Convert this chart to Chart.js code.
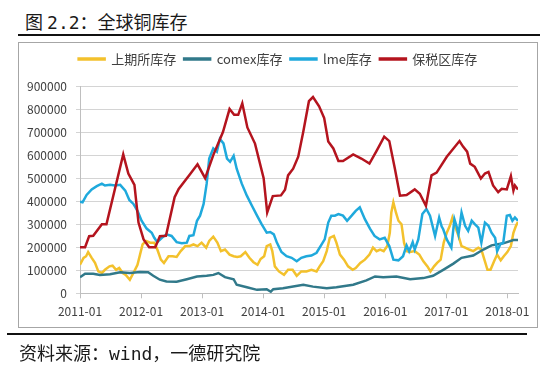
<!DOCTYPE html>
<html lang="zh-CN">
<head>
    <meta charset="UTF-8">
    <title>全球铜库存</title>
    <script src="https://cdn.jsdelivr.net/npm/chart.js"></script>
    <style>
        body { margin: 0; background: #fff; }
        #page { position: relative; width: 550px; height: 367px; overflow: hidden; font-family: "Noto Sans CJK SC", sans-serif; color: #1a1a1a; }
        .mono { font-family: "DejaVu Sans Mono", monospace; }
        .rule { position: absolute; height: 2px; background: #111; }
        #title { position: absolute; left: 25px; top: 11px; font-size: 18px; line-height: 20px; white-space: nowrap; }
        #source { position: absolute; left: 19px; top: 342px; font-size: 18px; line-height: 20px; white-space: nowrap; }
        #frame { position: absolute; left: 18px; top: 42px; width: 518px; height: 284px; border: 1px solid #a6a6a6; }
        #chart { position: absolute; left: 0; top: 0; }
    </style>
</head>
<body>
<div id="page">
    <div id="title">图 <span class="mono">2.2</span>：全球铜库存</div>
    <div class="rule" style="left:18px; top:34px; width:522px;"></div>
    <div id="frame"></div>
    <canvas id="chart" width="550" height="367"></canvas>
    <div class="rule" style="left:7px; top:333px; width:520px;"></div>
    <div id="source">资料来源：<span class="mono">wind</span>，一德研究院</div>
</div>
<script>
    // x values are months counted from 2011-01
    const yearLabels = ['2011-01', '2012-01', '2013-01', '2014-01', '2015-01', '2016-01', '2017-01', '2018-01'];
    const seriesNames = ['上期所库存', 'comex库存', 'lme库存', '保税区库存'];

    // 上期所库存
    const shfeMonths = [0, 0.7, 1.2, 1.6, 2.3, 2.95, 3.6, 4.3, 4.9, 5.8, 6.4, 7.1, 7.7, 8.4, 9, 9.8, 10.5, 11.3, 11.8, 12.3,
        13, 13.8, 14.6, 15.2, 15.9, 16.5, 17.4, 18.2, 19, 19.8, 20.7, 21.5, 22.3, 23.1, 23.9, 24.8, 25.4, 26.2, 27, 27.7,
        28.5, 29.4, 30.2, 30.9, 31.6, 32.5, 33.3, 34.1, 34.9, 35.5, 36.2, 36.7, 37.4, 37.8, 38.3, 39.1, 40.1, 40.9, 41.8, 42.6,
        43.5, 44.5, 45.5, 46.5, 47.1, 47.8, 48.5, 49.1, 49.9, 50.4, 51.1, 51.9, 52.7, 53.6, 54.2, 55.1, 56, 56.9, 57.6, 58.3,
        59, 59.7, 60.4, 60.9, 61.2, 61.6, 62.1, 62.6, 63.2, 63.7, 64.2, 64.9, 65.8, 66.7, 67.5, 68.3, 68.9, 69.6, 70.2, 70.9,
        71.5, 72.1, 72.7, 73.2, 73.7, 74.4, 75, 75.7, 76.5, 77.3, 78.3, 78.9, 79.6, 80.1, 80.7, 81.4, 82, 82.7, 83.3, 84,
        84.7, 85.2, 85.7, 86.1];
    const shfeValues = [124000, 154000, 161000, 179000, 154000, 132000, 95000, 88000, 102000, 117000, 120000, 102000, 110000, 88000, 80000, 59000, 88000, 124000, 168000, 212000,
        227000, 220000, 220000, 190000, 146000, 132000, 161000, 161000, 158000, 183000, 205000, 205000, 212000, 205000, 220000, 198000, 227000, 246000, 220000, 183000,
        190000, 168000, 161000, 158000, 161000, 179000, 154000, 135000, 124000, 149000, 161000, 205000, 212000, 183000, 117000, 95000, 80000, 102000, 102000, 76000,
        95000, 95000, 102000, 95000, 117000, 139000, 183000, 241000, 249000, 220000, 168000, 146000, 117000, 102000, 110000, 132000, 146000, 168000, 198000, 183000,
        190000, 183000, 205000, 263000, 351000, 395000, 351000, 315000, 300000, 220000, 183000, 179000, 183000, 168000, 139000, 117000, 95000, 117000, 132000, 146000,
        220000, 263000, 293000, 329000, 293000, 249000, 205000, 198000, 190000, 183000, 198000, 190000, 139000, 102000, 102000, 139000, 168000, 143000, 161000, 179000,
        205000, 263000, 293000, 310000];

    // comex库存
    const comexMonths = [0, 1, 2.6, 3.9, 5.9, 7.9, 9.8, 11.8, 13.4, 14.4, 15.7, 17, 19, 21, 23, 24.9, 26.2, 27.2, 28.5, 30.2,
        30.8, 32.8, 34.8, 36.7, 37.5, 38, 39.9, 43.9, 45.8, 48.5, 50.4, 53.7, 56.3, 58, 59.6, 62.2, 64.9, 67.5, 69.4, 71.4,
        73.4, 75, 77.3, 79.3, 80.9, 83.2, 85.2, 86.1];
    const comexValues = [70000, 85000, 85000, 80000, 83000, 91000, 88000, 92000, 91000, 76000, 59000, 51000, 50000, 61000, 73000, 76000, 80000, 88000, 70000, 61000,
        37000, 26000, 15000, 18000, 7000, 18000, 22000, 37000, 29000, 22000, 26000, 37000, 56000, 73000, 70000, 73000, 61000, 66000, 76000, 102000,
        129000, 154000, 164000, 190000, 208000, 217000, 231000, 231000];

    // lme库存
    const lmeMonths = [0, 0.5, 1.3, 2.3, 3.3, 4.3, 4.9, 5.9, 6.9, 7.9, 8.9, 9.7, 10.5, 11.3, 12.1, 13.1, 14.1, 14.6, 15.2, 16.1,
        17, 18, 19, 20, 21, 21.5, 22.3, 23, 23.6, 24.3, 24.9, 25.4, 26.2, 26.9, 27.5, 28.2, 28.9, 29.5, 30.2, 30.8,
        31.8, 32.8, 33.8, 34.8, 35.7, 36.7, 37.4, 38.1, 38.7, 39.6, 40.6, 41.6, 42.6, 43.5, 44.5, 45.5, 46.5, 47.5, 48.1, 48.8,
        49.4, 50.1, 50.8, 51.7, 52.5, 53.4, 54.2, 55, 56, 57, 57.9, 58.9, 59.9, 60.8, 61.6, 62.6, 63.5, 64.2, 64.7, 65.4,
        65.8, 66.5, 67.3, 68.1, 68.8, 69.8, 70.6, 71.1, 71.4, 72.1, 73, 73.6, 74, 74.4, 75, 75.7, 76.3, 77, 77.6, 78.3,
        78.9, 79.6, 80.3, 80.9, 81.6, 82, 82.6, 83.2, 83.9, 84.5, 85, 85.5, 86.1];
    const lmeValues = [398000, 395000, 427000, 451000, 465000, 476000, 468000, 471000, 468000, 471000, 446000, 405000, 388000, 358000, 315000, 281000, 263000, 241000, 222000, 241000,
        256000, 249000, 222000, 217000, 220000, 249000, 252000, 315000, 337000, 388000, 476000, 585000, 629000, 615000, 670000, 651000, 585000, 571000, 597000, 541000,
        476000, 424000, 380000, 337000, 300000, 263000, 266000, 256000, 220000, 179000, 161000, 154000, 139000, 154000, 161000, 164000, 176000, 212000, 234000, 307000,
        337000, 337000, 344000, 337000, 315000, 337000, 358000, 373000, 322000, 281000, 249000, 234000, 241000, 205000, 146000, 143000, 161000, 208000, 183000, 222000,
        190000, 234000, 344000, 366000, 337000, 249000, 329000, 290000, 278000, 234000, 198000, 322000, 293000, 256000, 351000, 293000, 271000, 315000, 300000, 285000,
        220000, 307000, 293000, 263000, 241000, 183000, 212000, 220000, 337000, 340000, 315000, 329000, 315000];

    // 保税区库存
    const bondedMonths = [0, 1, 1.8, 2.6, 4.3, 5.2, 8.5, 9.5, 10.7, 11.5, 12.5, 13.6, 14.8, 15.7, 16.9, 18.6, 19.4, 21.7, 23.1, 24.6,
        26.2, 28.1, 29.4, 30.3, 31.1, 31.9, 32.9, 34.4, 36.1, 36.8, 37.9, 39.5, 40.3, 40.9, 41.9, 42.9, 43.9, 45, 45.8, 47,
        48, 48.8, 49.8, 50.8, 51.7, 53.7, 55.3, 56.9, 58.3, 59.8, 60.8, 61.9, 62.9, 64.2, 65.8, 66.8, 68, 69.1, 70.1, 72.1,
        74.6, 75.3, 76.1, 76.7, 77.6, 78.8, 79.6, 80.3, 81.2, 82.2, 82.9, 83.9, 84.7, 85.2, 85.5, 86.1];
    const bondedValues = [200000, 200000, 248000, 250000, 300000, 300000, 603000, 520000, 471000, 307000, 234000, 200000, 200000, 248000, 250000, 417000, 453000, 519000, 560000, 500000,
        600000, 700000, 800000, 775000, 775000, 825000, 720000, 650000, 500000, 351000, 422000, 425000, 450000, 512000, 541000, 593000, 702000, 834000, 852000, 812000,
        761000, 659000, 629000, 574000, 574000, 603000, 585000, 563000, 618000, 680000, 661000, 541000, 424000, 427000, 451000, 432000, 380000, 512000, 524000, 593000,
        661000, 637000, 615000, 563000, 549000, 498000, 520000, 527000, 468000, 439000, 454000, 451000, 509000, 446000, 468000, 451000];

    const seriesColors = ['#F3C12C', '#31798A', '#1FA9DC', '#B4141E'];

    function toPoints(months, values) {
        return months.map((m, i) => ({ x: m, y: values[i] }));
    }

    const allMonths = [shfeMonths, comexMonths, lmeMonths, bondedMonths];
    const allValues = [shfeValues, comexValues, lmeValues, bondedValues];

    const datasets = seriesNames.map((name, i) => ({
        label: name,
        data: toPoints(allMonths[i], allValues[i]),
        borderColor: seriesColors[i],
        backgroundColor: seriesColors[i],
        borderWidth: 2.5,
        pointRadius: 0,
        tension: 0,
        fill: false,
        order: 4 - i // later series drawn on top, like the original
    }));

    // legend sits a bit higher than the plot and is centred on the frame, not the plot
    const legendPlace = {
        id: 'legendPlace',
        beforeInit(chart) {
            const fit = chart.legend.fit;
            chart.legend.fit = function () {
                fit.call(this);
                this.height += 10.5;
            };
        },
        afterLayout(chart) {
            chart.legend.left += 9;
            chart.legend.right += 9;
        }
    };

    const axisText = '#404040';

    new Chart(document.getElementById('chart'), {
        type: 'line',
        data: { datasets: datasets },
        plugins: [legendPlace],
        options: {
            responsive: false,
            animation: false,
            devicePixelRatio: 1,
            layout: { padding: { left: 20, right: 32, top: 44.5, bottom: 43.7 } },
            plugins: {
                tooltip: { enabled: false },
                legend: {
                    position: 'top',
                    labels: {
                        boxWidth: 26,
                        boxHeight: 1,
                        padding: 8,
                        color: axisText,
                        font: { family: '"Noto Sans CJK SC"', size: 13 },
                        sort: (a, b) => a.datasetIndex - b.datasetIndex
                    }
                }
            },
            scales: {
                x: {
                    type: 'linear',
                    min: 0,
                    max: 86.1,
                    afterFit(scale) { scale.height = 30; },
                    grid: { drawOnChartArea: false, drawTicks: true, tickLength: 5, color: '#bfbfbf' },
                    border: { display: true, color: '#bfbfbf' },
                    ticks: {
                        stepSize: 12,
                        includeBounds: false,
                        autoSkip: false,
                        maxRotation: 0,
                        padding: 6,
                        color: axisText,
                        font: { family: '"Noto Sans CJK SC"', size: 12 },
                        callback: v => yearLabels[v / 12]
                    }
                },
                y: {
                    min: 0,
                    max: 900000,
                    afterFit(scale) { scale.width = 60; },
                    grid: { color: '#d4d4d4', tickLength: 4, drawTicks: true },
                    border: { display: true, color: '#bfbfbf' },
                    ticks: {
                        stepSize: 100000,
                        padding: 9,
                        color: axisText,
                        font: { family: '"Noto Sans CJK SC"', size: 12 },
                        callback: v => String(v)
                    }
                }
            }
        }
    });
</script>
</body>
</html>
